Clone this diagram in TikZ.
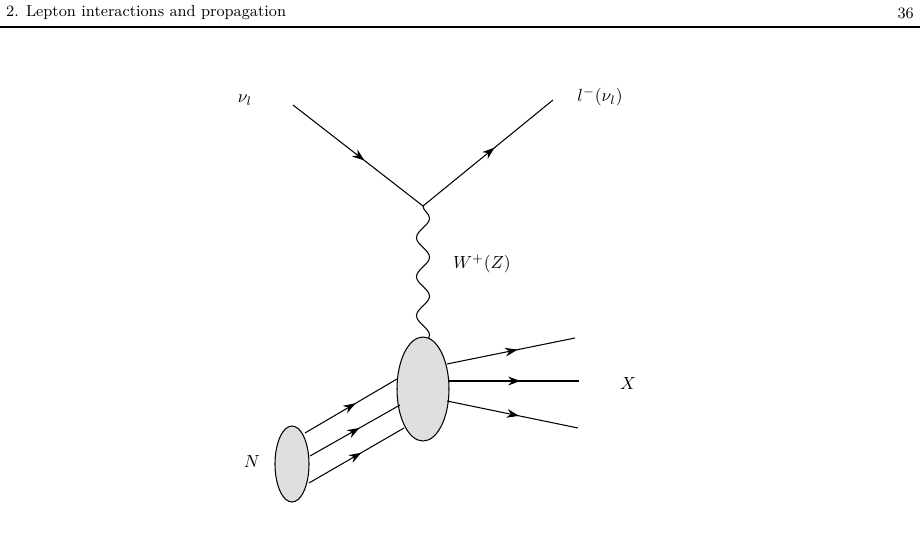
\documentclass[tikz,border=0pt]{standalone}
\usepackage{amsmath}
\usetikzlibrary{decorations.pathmorphing,decorations.markings,arrows.meta}
\tikzset{
  fermion/.style={semithick,postaction={decorate},decoration={markings,mark=at position 0.55 with {\arrow{Stealth[length=7pt,width=5pt]}}}},
  boson/.style={semithick,decorate,decoration={snake,amplitude=1.3mm,segment length=7.8mm}},
  blob/.style={draw,semithick,fill=gray!25}
}
\begin{document}
\begin{tikzpicture}[x=0.02cm,y=-0.02cm]
  \useasboundingbox (0,0) rectangle (920,541);
  % page header
  \node[anchor=west,font=\small]    (head) at (0,13)   {2. Lepton interactions and propagation};
  \node[anchor=east,font=\small]    (page) at (920,13) {36};
  \draw[semithick] (0,27) -- (920,27);
  % external points
  \coordinate (nuin)  at (293,105);
  \coordinate (lout)  at (553,100);
  \coordinate (vtx)   at (423,206);
  \coordinate (wend)  at (423,364);
  \coordinate (x1)    at (575,338);
  \coordinate (x2)    at (579,381);
  \coordinate (x3)    at (578,428);
  % lepton line
  \draw[fermion] (nuin) -- (vtx);
  \draw[fermion] (vtx) -- (lout);
  \draw[boson]   (vtx) -- (wend);
  % blobs
  \draw[blob] (423,389) ellipse (26 and 52);
  \draw[blob] (292,464) ellipse (17 and 38);
  % partons
  \draw[fermion] (305,433) -- (397,379);
  \draw[fermion] (310,456) -- (400,405);
  \draw[fermion] (309,483) -- (404,428);
  % hadronic final state
  \draw[fermion] (447,364) -- (x1);
  \draw[fermion] (449,381) -- (x2);
  \draw[fermion] (447,401) -- (x3);
  % labels
  \node (lnu) at (245,100) {$\nu_l$};
  \node (ll)  at (600,97)  {$l^-(\nu_l)$};
  \node (lw)  at (482,264) {$W^+(Z)$};
  \node (lx)  at (628,383) {$X$};
  \node (ln)  at (252,461) {$N$};
\end{tikzpicture}
\end{document}
